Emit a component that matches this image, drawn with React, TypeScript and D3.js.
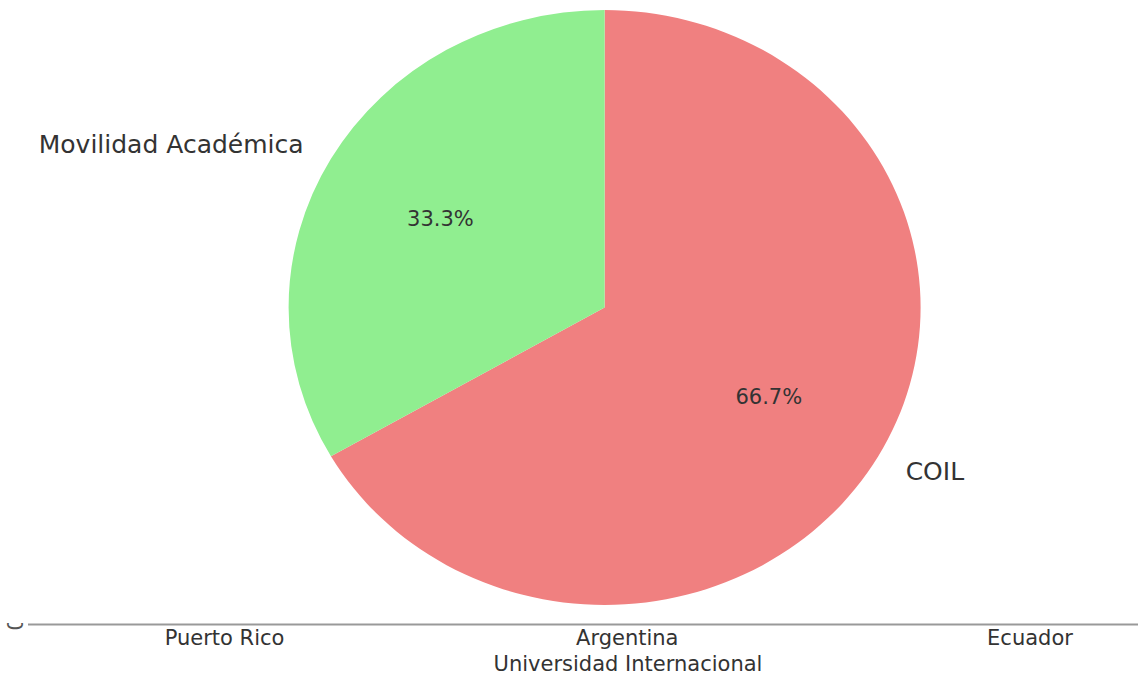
import React from "react";
import * as d3 from "d3";

const sliceLabels = ["COIL", "Movilidad Académica"];
const sliceValues = [2, 1];
const sliceColors = ["#F08080", "#90EE90"];
const xCategories = ["Puerto Rico", "Argentina", "Ecuador"];
const xAxisTitle = "Universidad Internacional";

const W = 1138;
const H = 679;
const cx = 604.6;
const cy = 307.5;
const rx = 316;
const ry = 297.5;
const font = "'DejaVu Sans', sans-serif";
const textColor = "#333";

export default function App() {
  const pie = d3.pie<number>().sort(null).startAngle(0).endAngle(2 * Math.PI);
  const arcs = pie(sliceValues);
  const total = d3.sum(sliceValues);
  const arcGen = d3.arc<d3.PieArcDatum<number>>().innerRadius(0).outerRadius(ry);
  const labelArc = d3.arc<d3.PieArcDatum<number>>().innerRadius(ry * 1.1).outerRadius(ry * 1.1);
  const pctArc = d3.arc<d3.PieArcDatum<number>>().innerRadius(ry * 0.6).outerRadius(ry * 0.6);
  const sx = rx / ry;

  const xScale = d3.scalePoint<string>().domain(xCategories).range([224.5, 1030]).padding(0);
  const axisY = 624.5;

  return (
    <svg width={W} height={H} style={{ position: "absolute", left: 0, top: 0, background: "#fff" }}>
      <defs>
        <clipPath id="zeroClip" clipPathUnits="userSpaceOnUse">
          <rect x={0} y={623} width={40} height={20} />
        </clipPath>
      </defs>
      <g transform={`translate(${cx},${cy}) scale(${sx},1)`}>
        {arcs.map((a, i) => (
          <path key={i} d={arcGen(a) || ""} fill={sliceColors[i]} />
        ))}
      </g>
      {arcs.map((a, i) => {
        const [lx, ly] = labelArc.centroid(a);
        const mid = (a.startAngle + a.endAngle) / 2;
        const anchor = Math.sin(mid) < 0 ? "end" : "start";
        return (
          <text
            key={"l" + i}
            x={cx + lx * sx}
            y={cy + ly}
            dy="0.36em"
            textAnchor={anchor}
            fontFamily={font}
            fontSize={25}
            fill={textColor}
          >
            {sliceLabels[i]}
          </text>
        );
      })}
      {arcs.map((a, i) => {
        const [px, py] = pctArc.centroid(a);
        return (
          <text
            key={"p" + i}
            x={cx + px * sx}
            y={cy + py}
            dy="0.36em"
            textAnchor="middle"
            fontFamily={font}
            fontSize={21}
            fill={textColor}
          >
            {((a.data / total) * 100).toFixed(1) + "%"}
          </text>
        );
      })}
      <line x1={28} x2={W} y1={axisY} y2={axisY} stroke="#999" strokeWidth={2} />
      {xCategories.map((c) => (
        <text
          key={c}
          x={xScale(c)}
          y={645}
          textAnchor="middle"
          fontFamily={font}
          fontSize={21}
          fill={textColor}
        >
          {c}
        </text>
      ))}
      <text x={628} y={671} textAnchor="middle" fontFamily={font} fontSize={21} fill={textColor}>
        {xAxisTitle}
      </text>
      <g clipPath="url(#zeroClip)">
        <text
          transform="translate(22.5,624) rotate(-90)"
          textAnchor="middle"
          fontFamily={font}
          fontSize={21}
          fill="#555"
        >
          0
        </text>
      </g>
    </svg>
  );
}
